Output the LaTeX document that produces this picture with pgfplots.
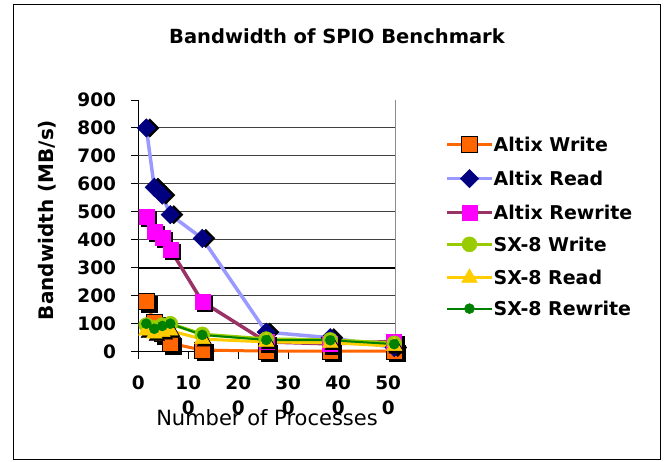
\documentclass[border=0pt]{standalone}
\usepackage{fontspec}
\setmainfont{DejaVu Sans}
\usepackage{pgfplots}
\pgfplotsset{compat=1.18}
\definecolor{awr}{HTML}{FF6600}
\definecolor{ard}{HTML}{9999FF}
\definecolor{ardm}{HTML}{000080}
\definecolor{arw}{HTML}{993366}
\definecolor{arwm}{HTML}{FF00FF}
\definecolor{swr}{HTML}{99CC00}
\definecolor{srd}{HTML}{FFCC00}
\definecolor{srw}{HTML}{008000}
\begin{document}
\begin{tikzpicture}[x=1pt,y=1pt]
\path (0,0) rectangle (669,461);
\draw[black, line width=1pt] (13.5,2) rectangle (660.5,456);
\begin{axis}[
  at={(138.3pt,109.3pt)}, anchor=south west, scale only axis,
  width=257.4pt, height=251.7pt,
  xmin=0, xmax=515, ymin=0, ymax=900,
  clip=false,
  axis lines=left, axis line style={-, black, line width=1pt},
  tick align=outside, major tick length=7pt,
  tick style={black, line width=1pt},
  /pgf/number format/assume math mode=true,
  xtick={0,100,200,300,400,500},
  xticklabels={0,{10\\0},{20\\0},{30\\0},{40\\0},{50\\0}},
  ytick={0,100,200,300,400,500,600,700,800,900},
  extra y ticks={100,200,400,500,600,700,800},
  extra y tick labels={},
  extra y tick style={ymajorgrids=true, major tick length=0pt, grid style={black!75, line width=1pt}},
  x tick label style={align=center, inner sep=0pt, yshift=-17pt, font=\bfseries\fontsize{18.5}{25}\selectfont},
  y tick label style={inner sep=0pt, xshift=-15pt, font=\bfseries\fontsize{18.5}{20}\selectfont},
  title={Bandwidth of SPIO Benchmark},
  title style={at={(axis description cs:0.772,1.2305)}, anchor=center, font=\bfseries\fontsize{19.5}{21}\selectfont},
  xlabel={Number of Processes},
  xlabel style={at={(axis description cs:0.5,-0.2634)}, anchor=center, font=\fontsize{21}{22}\selectfont},
  ylabel={Bandwidth (MB/s)},
  ylabel style={at={(axis description cs:-0.355,0.523)}, anchor=center, font=\bfseries\fontsize{20}{21}\selectfont},
  legend style={at={(axis description cs:1.1916,0.856)}, anchor=north west, draw=none, fill=none,
    inner sep=0pt, row sep=17pt, column sep=0pt,
    font=\bfseries\fontsize{19}{20}\selectfont,
    nodes={inner sep=0pt, text height=13.8pt, text depth=0pt}},
  legend cell align=left,
  legend image code/.code={\draw[mark repeat=2,mark phase=2,#1] plot coordinates {(0pt,0pt) (22.5pt,0pt) (45pt,0pt)};},
]
\draw[black, line width=2.5pt] (axis cs:0,300) -- (axis cs:515,300);
\draw[black!45, line width=1pt] (axis cs:515,0) -- (axis cs:515,900);

% Altix Write
\addplot[forget plot, only marks, mark=square*, mark size=8pt, black, mark options={xshift=2.5pt,yshift=-2.5pt}]
  coordinates {(16,180) (32,105) (48,65) (64,30) (128,6) (256,2) (384,2) (512,2)};
\addplot[awr, line width=3pt, mark=square*, mark size=8pt, mark options={fill=awr, draw=black, line width=0.8pt}]
  coordinates {(16,180) (32,105) (48,65) (64,30) (128,6) (256,2) (384,2) (512,2)};
\addlegendentry{Altix Write}
% Altix Read
\addplot[forget plot, only marks, mark=square*, mark size=6.5pt, black, mark options={rotate=45, xshift=2.5pt,yshift=-2.5pt}]
  coordinates {(16,800) (32,588) (48,560) (64,490) (128,405) (256,70) (384,50) (512,15)};
\addplot[ard, line width=3.5pt, mark=square*, mark size=6.5pt, mark options={rotate=45, fill=ardm, draw=ardm, line width=0.5pt}]
  coordinates {(16,800) (32,588) (48,560) (64,490) (128,405) (256,70) (384,50) (512,15)};
\addlegendentry{Altix Read}
% Altix Rewrite
\addplot[forget plot, only marks, mark=square*, mark size=7.5pt, black, mark options={xshift=2.5pt,yshift=-2.5pt}]
  coordinates {(16,483) (32,430) (48,408) (64,366) (128,179) (256,35) (384,28) (512,37)};
\addplot[arw, line width=3.5pt, mark=square*, mark size=7.5pt, mark options={fill=arwm, draw=arwm, line width=0.5pt}]
  coordinates {(16,483) (32,430) (48,408) (64,366) (128,179) (256,35) (384,28) (512,37)};
\addlegendentry{Altix Rewrite}
% SX-8 Write
\addplot[swr, line width=3.5pt, mark=*, mark size=7.5pt, mark options={fill=swr, draw=swr, line width=0.5pt}]
  coordinates {(16,95) (32,85) (48,95) (64,100) (128,62) (256,45) (384,42) (512,30)};
\addlegendentry{SX-8 Write}
% SX-8 Read
\addplot[forget plot, only marks, mark=triangle*, mark size=9pt, black, mark options={xshift=2.5pt,yshift=-2.5pt}]
  coordinates {(16,75) (32,65) (48,70) (64,75) (128,45) (256,35) (384,32) (512,20)};
\addplot[srd, line width=3pt, mark=triangle*, mark size=9pt, mark options={fill=srd, draw=srd, line width=0.5pt}]
  coordinates {(16,75) (32,65) (48,70) (64,75) (128,45) (256,35) (384,32) (512,20)};
\addlegendentry{SX-8 Read}
% SX-8 Rewrite
\addplot[srw, line width=2pt, mark=*, mark size=5pt, mark options={fill=srw, draw=srw, line width=0.5pt}]
  coordinates {(16,100) (32,82) (48,92) (64,100) (128,60) (256,42) (384,41) (512,27)};
\addlegendentry{SX-8 Rewrite}
\end{axis}
\end{tikzpicture}
\end{document}
